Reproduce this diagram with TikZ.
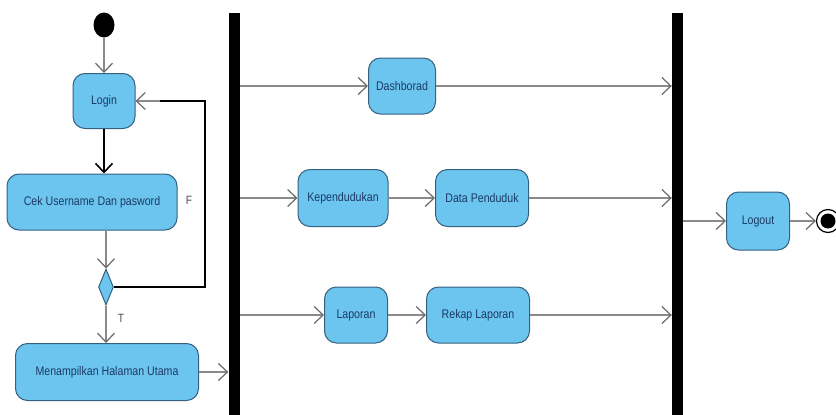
\documentclass[tikz,border=0pt]{standalone}
\usepackage{fontspec}
\setmainfont{Liberation Sans}
\newfontfamily\nodefont[FakeStretch=0.85]{Liberation Sans}
\usetikzlibrary{arrows.meta,shapes.geometric}
\definecolor{actfill}{HTML}{6CC5EE}
\definecolor{actdraw}{HTML}{35607E}
\definecolor{acttext}{HTML}{1B3A66}
\definecolor{flowgray}{HTML}{8A8A8A}
\definecolor{tipgray}{HTML}{6A6A6A}
\tikzset{
  act/.style={draw=actdraw, line width=1pt, fill=actfill, rounded corners=12pt,
    font=\nodefont\fontsize{12.5}{14}\selectfont, text=acttext, inner sep=0pt},
  bar/.style={fill=black, draw=none, inner sep=0pt, minimum width=11pt},
  tip/.style={-{Straight Barb[length=9pt,width=17pt,line width=1.2pt,color=tipgray]}},
  flow/.style={draw=flowgray, line width=1.2pt, tip},
  loopline/.style={draw=black, line width=2.6pt},
  lbl/.style={font=\nodefont\fontsize{12}{14}\selectfont, text=black!70}
}
\begin{document}
\begin{tikzpicture}[x=1pt,y=-1pt]
\useasboundingbox (0,0) rectangle (836,415);
\clip (0,0) rectangle (836,415);
% initial
\node[ellipse, fill=black, minimum width=21pt, minimum height=25pt, inner sep=0pt] (start) at (104,25) {};
% left column
\node[act, minimum width=62pt, minimum height=55pt] (login) at (104,101) {Login};
\node[act, minimum width=170pt, minimum height=56pt] (cek) at (92,202) {Cek Username Dan pasword};
\node[diamond, draw=actdraw, fill=actfill, line width=1pt, minimum width=15pt, minimum height=36pt, inner sep=0pt] (dia) at (106,287) {};
\node[act, minimum width=183pt, minimum height=57pt] (men) at (107,372) {Menampilkan Halaman Utama};
% bars
\node[bar, minimum height=410pt] (b1) at (234,218) {};
\node[bar, minimum height=410pt] (b2) at (677.5,218) {};
% middle
\node[act, minimum width=67pt, minimum height=56pt] (dash) at (402,86) {Dashborad};
\node[act, minimum width=90pt, minimum height=57pt] (kep) at (343,198) {Kependudukan};
\node[act, minimum width=93pt, minimum height=57pt] (data) at (482,198) {Data Penduduk};
\node[act, minimum width=63pt, minimum height=56pt] (lap) at (356,315) {Laporan};
\node[act, minimum width=103pt, minimum height=56pt] (rek) at (478,315) {Rekap Laporan};
% right
\node[act, minimum width=63pt, minimum height=58pt] (logout) at (758,221) {Logout};
\node[circle, draw=black, fill=white, line width=1.2pt, minimum size=23pt, inner sep=0pt] (end) at (828,221) {};
\node[circle, fill=black, minimum size=15pt, inner sep=0pt] (endin) at (end.center) {};
% labels
\node[lbl] (lf) at (189,200) {F};
\node[lbl] (lt) at (121,318) {T};
% connectors
\draw[flow] (start) -- (login);
\draw[loopline, -{Straight Barb[length=9pt,width=17pt,line width=1.6pt]}] (login.south) -- (login.south |- cek.north);
\draw[flow] (dia.north |- cek.south) -- (dia.north);
\draw[flow] (dia.south) -- (dia.south |- men.north);
\coordinate (lp) at (205,101);
\draw[loopline] (dia.east) -| (lp) -- ([xshift=24pt]login.east);
\draw[flow] ([xshift=24pt]login.east) -- (login.east);
\draw[flow] (men.east) -- (men.east -| b1.west);
\draw[flow] (b1.east |- dash.west) -- (dash.west);
\draw[flow] (b1.east |- kep.west) -- (kep.west);
\draw[flow] (kep) -- (data);
\draw[flow] (b1.east |- lap.west) -- (lap.west);
\draw[flow] (lap) -- (rek);
\draw[flow] (dash.east) -- (dash.east -| b2.west);
\draw[flow] (data.east) -- (data.east -| b2.west);
\draw[flow] (rek.east) -- (rek.east -| b2.west);
\draw[flow] (b2.east |- logout.west) -- (logout.west);
\draw[flow] (logout) -- (end);
\end{tikzpicture}
\end{document}
